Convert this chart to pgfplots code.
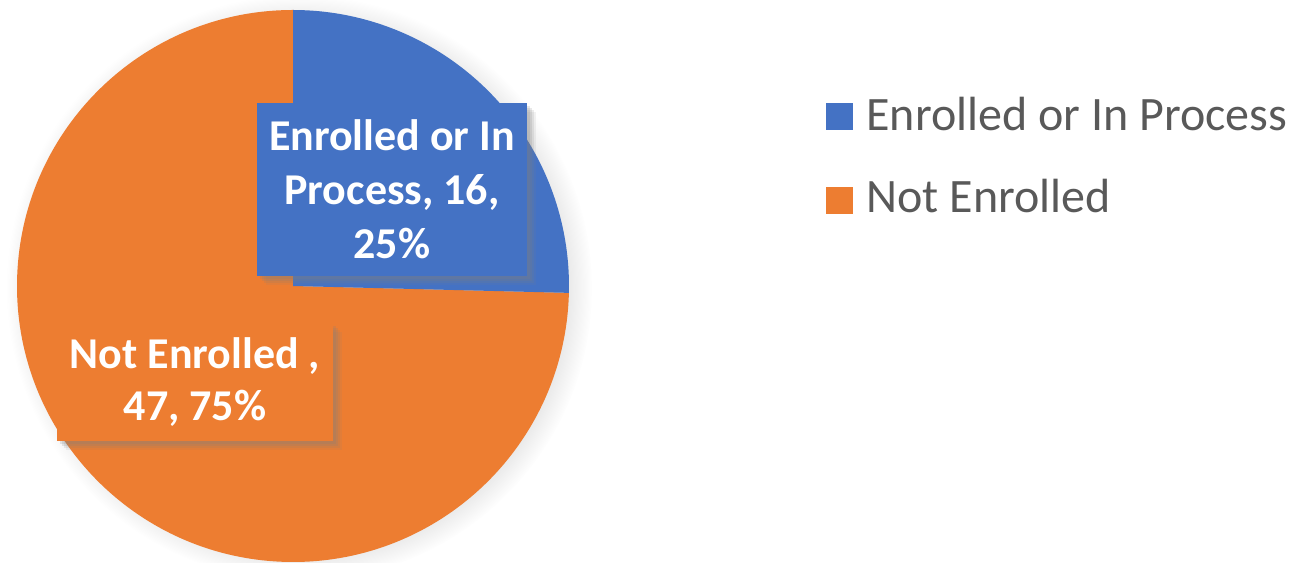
\documentclass[border=0pt]{standalone}
\usepackage{pgfplots}
\pgfplotsset{compat=1.18}
\usepackage{pgfplotstable}
\usepackage{fontspec}
\setmainfont{Carlito}
\usetikzlibrary{shadows}
\definecolor{cblue}{HTML}{4472C4}
\definecolor{corange}{HTML}{ED7D31}
\definecolor{ctext}{HTML}{595959}
\pgfplotstableread{
label value
Enrolled 16
NotEnrolled 47
}\piedata
\tikzset{softshadow/.style={
  drop shadow={shadow xshift=1.5bp, shadow yshift=-1.5bp, opacity=0.18},
  drop shadow={shadow xshift=2.5bp, shadow yshift=-2.5bp, opacity=0.18},
  drop shadow={shadow xshift=3.5bp, shadow yshift=-3.5bp, opacity=0.15},
  drop shadow={shadow xshift=4.5bp, shadow yshift=-4.5bp, opacity=0.10}}}
\begin{document}
\begin{tikzpicture}
\pgfplotstablegetelem{0}{value}\of\piedata \let\va\pgfplotsretval
\pgfplotstablegetelem{1}{value}\of\piedata \let\vb\pgfplotsretval
\pgfmathsetmacro\tot{\va+\vb}
\pgfmathsetmacro\aA{90-360*\va/\tot}
\begin{axis}[hide axis, scale only axis, width=648bp, height=281.5bp,
  xmin=0, xmax=1296, ymin=0, ymax=563, clip=false]
\coordinate (ll) at (axis cs:0,0);
\coordinate (ur) at (axis cs:1296,563);
% pie shadow
\node[circle, minimum size=276bp, inner sep=0pt,
  circular drop shadow={shadow xshift=3bp, shadow yshift=-1bp, opacity=0.3, shadow scale=1.06}]
  at (axis cs:293,277) {};
\fill[corange] (axis cs:293,277) -- ++(\aA:138bp) arc[start angle=\aA, end angle=-270, radius=138bp] -- cycle;
\fill[cblue] (axis cs:293,277) -- ++(90:138bp) arc[start angle=90, end angle=\aA, radius=138bp] -- cycle;
% data labels
\node[fill=cblue, text=white, font=\bfseries\fontsize{22bp}{27bp}\selectfont, align=center,
  minimum width=135bp, minimum height=86.5bp, inner sep=0pt, softshadow]
  at (axis cs:392,373.5) {Enrolled or In\\Process, 16,\\25\%};
\node[fill=corange, text=white, font=\bfseries\fontsize{22bp}{26bp}\selectfont, align=center,
  minimum width=138bp, minimum height=59bp, inner sep=0pt, softshadow]
  at (axis cs:195,181) {Not Enrolled ,\\47, 75\%};
% legend
\fill[cblue] (axis cs:826,460) rectangle (axis cs:853,433);
\fill[corange] (axis cs:826,376) rectangle (axis cs:853,349);
\node[anchor=base west, inner sep=0pt, text=ctext, font=\fontsize{24bp}{28bp}\selectfont]
  at (axis cs:866,432) {Enrolled or In Process};
\node[anchor=base west, inner sep=0pt, text=ctext, font=\fontsize{24bp}{28bp}\selectfont]
  at (axis cs:866,350) {Not Enrolled};
\end{axis}
\pgfresetboundingbox
\useasboundingbox (ll) rectangle (ur);
\end{tikzpicture}
\end{document}
